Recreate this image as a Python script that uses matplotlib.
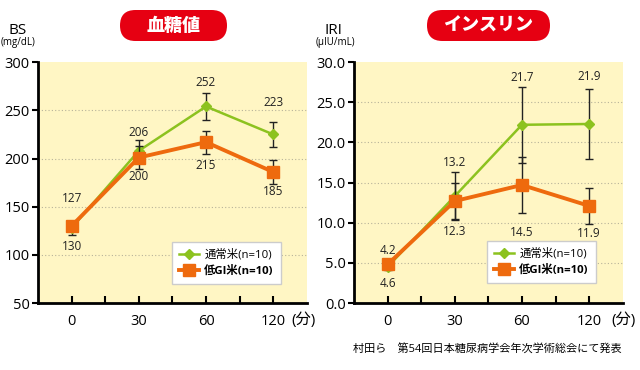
import matplotlib
matplotlib.use("Agg")
import matplotlib.pyplot as plt
from matplotlib.patches import FancyBboxPatch
from matplotlib.lines import Line2D
import numpy as np

plt.rcParams['font.family'] = ['Open Sans', 'Noto Sans CJK JP', 'DejaVu Sans']

times = ['0', '30', '60', '120']

# Blood sugar (BS)
bs_normal = [128, 208, 254, 225]
bs_normal_err = [7, 11, 14, 13]
bs_normal_labels = ['127', '206', '252', '223']
bs_lowgi = [130, 201, 217, 186]
bs_lowgi_err = [5, 12, 12, 12]
bs_lowgi_labels = ['130', '200', '215', '185']

# Insulin (IRI)
iri_normal = [4.5, 13.3, 22.2, 22.3]
iri_normal_err = [0.4, 3.0, 4.7, 4.4]
iri_normal_labels = ['4.2', '13.2', '21.7', '21.9']
iri_lowgi = [4.8, 12.7, 14.7, 12.1]
iri_lowgi_err = [0.4, 2.2, 3.5, 2.2]
iri_lowgi_labels = ['4.6', '12.3', '14.5', '11.9']

GREEN = '#8cc21f'
ORANGE = '#ee6a0e'
BG = '#fff6c4'
RED = '#e60012'

fig = plt.figure(figsize=(6.4, 3.7), dpi=100)

def setup(ax, ylim, yticks, fmt):
    ax.set_facecolor(BG)
    ax.set_xlim(-0.5, 3.5)
    ax.set_ylim(*ylim)
    ax.set_yticks(yticks)
    ax.set_yticklabels([fmt.format(v) for v in yticks], fontsize=10.5)
    ax.set_xticks(range(4))
    ax.set_xticklabels(times, fontsize=10.5)
    ax.set_xticks(np.arange(0.5, 3, 1), minor=True)
    for v in yticks[1:-1]:
        ax.axhline(v, color='#b8b39a', lw=0.8, ls=(0, (1, 2)), zorder=0)
    for s in ['top', 'right']:
        ax.spines[s].set_visible(False)
    ax.spines['left'].set_linewidth(2)
    ax.spines['bottom'].set_linewidth(2)
    ax.tick_params(axis='x', which='both', direction='in', length=5, width=1.5, pad=8)
    ax.tick_params(axis='y', which='both', direction='out', length=4, width=1.5, pad=2)

def draw(ax, a, aerr, alab, b, berr, blab, off_a, off_b, anchor):
    x = np.arange(4)
    ax.errorbar(x, a, yerr=aerr, color=GREEN, lw=1.8, marker='D', ms=5,
                ecolor='#222222', elinewidth=1, capsize=3, capthick=1, zorder=3)
    ax.errorbar(x, b, yerr=berr, color=ORANGE, lw=2.8, marker='s', ms=8,
                ecolor='#222222', elinewidth=1, capsize=3, capthick=1, zorder=4)
    for i in range(4):
        ax.annotate(alab[i], (i, a[i]), xytext=(0, off_a[i]), textcoords='offset points',
                    ha='center', va='center', fontsize=8.5, color='#222222')
        ax.annotate(blab[i], (i, b[i]), xytext=(0, off_b[i]), textcoords='offset points',
                    ha='center', va='center', fontsize=8.5, color='#222222')
    handles = [Line2D([], [], color=GREEN, lw=1.8, marker='D', ms=5),
               Line2D([], [], color=ORANGE, lw=2.8, marker='s', ms=8)]
    leg = ax.legend(handles, ['通常米(n=10)', '低GI米(n=10)'], loc='lower left',
                    bbox_to_anchor=anchor, fontsize=8.2,
                    frameon=True, fancybox=False, edgecolor='#cccccc', framealpha=1,
                    handlelength=1.7, borderpad=0.65, labelspacing=0.4, handletextpad=0.5,
                    borderaxespad=0)
    leg.get_texts()[1].set_fontweight('bold')
    return leg

ax1 = fig.add_axes([0.0594, 0.181, 0.420, 0.651])
setup(ax1, (50, 300), [50, 100, 150, 200, 250, 300], '{:d}')
draw(ax1, bs_normal, bs_normal_err, bs_normal_labels, bs_lowgi, bs_lowgi_err, bs_lowgi_labels,
     [21, 13.5, 17.5, 23], [-14.5, -14, -17, -14], ((172 - 38) / 269, (303 - 284) / 241))

ax2 = fig.add_axes([0.553, 0.181, 0.420, 0.651])
setup(ax2, (0, 30), [0, 5, 10, 15, 20, 25, 30], '{:.1f}')
draw(ax2, iri_normal, iri_normal_err, iri_normal_labels, iri_lowgi, iri_lowgi_err, iri_lowgi_labels,
     [12, 24, 34, 34], [-14, -22, -34, -20], ((487 - 354) / 269, (304 - 284) / 242))

# overlay axes in pixel coordinates for texts and badges
ov = fig.add_axes([0, 0, 1, 1], facecolor='none')
ov.set_xlim(0, 640)
ov.set_ylim(370, 0)
ov.axis('off')

ov.text(18, 30, 'BS', fontsize=11, ha='center', va='center')
ov.text(18, 43, '(mg/dL)', fontsize=7, ha='center', va='center')
ov.text(333, 30, 'IRI', fontsize=11, ha='center', va='center')
ov.text(335, 43, '(μIU/mL)', fontsize=7, ha='center', va='center')
ov.text(303, 320, '(分)', fontsize=11, ha='center', va='center')
ov.text(624, 320, '(分)', fontsize=11, ha='center', va='center')
ov.text(622, 350, '村田ら　第54回日本糖尿病学会年次学術総会にて発表',
        fontsize=8, ha='right', va='center')

def badge(x0, x1, text):
    y0, y1 = 10, 41
    r = (y1 - y0) / 2
    p = FancyBboxPatch((x0, y0), x1 - x0, y1 - y0,
                       boxstyle=f'round,pad=0,rounding_size={r}',
                       facecolor=RED, edgecolor='none')
    ov.add_patch(p)
    ov.text((x0 + x1) / 2, (y0 + y1) / 2 + 1, text, fontsize=13, fontweight='heavy',
            color='white', ha='center', va='center')

badge(120, 227, '血糖値')
badge(427, 550, 'インスリン')

fig.savefig('out.png', dpi=100)
